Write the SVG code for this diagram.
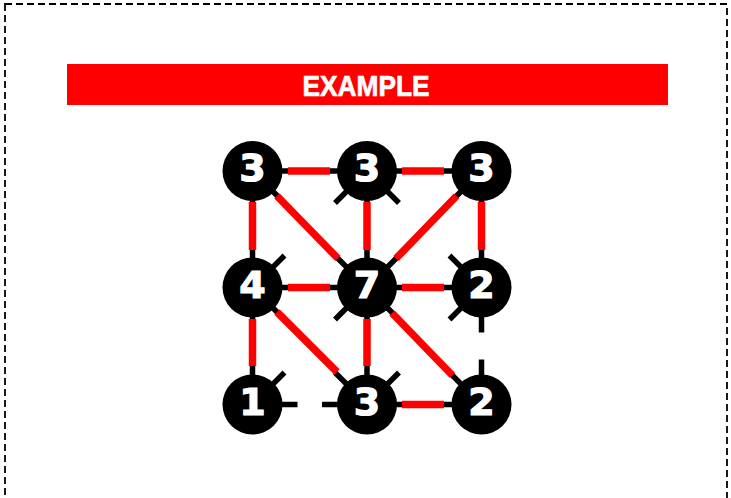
<svg xmlns="http://www.w3.org/2000/svg" width="731" height="498" viewBox="0 0 731 498">
<style>
.frame{fill:none;stroke:#000;stroke-width:1.8;stroke-dasharray:7,4}
.stub{stroke:#000;stroke-width:5.5;stroke-linecap:butt}
.disc{fill:#000}
.num{fill:#fff;stroke:#fff;stroke-width:1.2;font-family:"DejaVu Sans","Liberation Sans",sans-serif;font-weight:bold;font-size:38px;text-anchor:middle}
.edge{stroke:#ff0000;stroke-width:7.5;stroke-linecap:butt}
.title{fill:#fff;stroke:#fff;stroke-width:0.7;font-family:"Liberation Sans","DejaVu Sans",sans-serif;font-weight:bold;font-size:30px;text-anchor:middle}
</style>
<rect class="frame" x="5" y="4" width="722" height="530"/>
<g id="header">
<rect x="67" y="64" width="601" height="41" fill="#ff0000"/>
<text class="title" x="366" y="96" textLength="127" lengthAdjust="spacingAndGlyphs">EXAMPLE</text>
</g>
<g id="node-TL">
<path class="stub" d="M252.5 171h45M252.5 171v45M252.5 171l32 32"/>
<circle class="disc" cx="252.5" cy="171" r="30"/>
<text class="num" x="252.5" y="181">3</text>
</g>
<g id="node-TM">
<path class="stub" d="M367 171h-45M367 171h45M367 171v45M367 171l-32 32M367 171l32 32"/>
<circle class="disc" cx="367" cy="171" r="30"/>
<text class="num" x="367" y="181">3</text>
</g>
<g id="node-TR">
<path class="stub" d="M481.5 171h-45M481.5 171v45M481.5 171l-32 32"/>
<circle class="disc" cx="481.5" cy="171" r="30"/>
<text class="num" x="481.5" y="181">3</text>
</g>
<g id="node-ML">
<path class="stub" d="M252.5 287.5v-45M252.5 287.5v45M252.5 287.5h45M252.5 287.5l32 -32M252.5 287.5l32 32"/>
<circle class="disc" cx="252.5" cy="287.5" r="30"/>
<text class="num" x="252.5" y="297.5">4</text>
</g>
<g id="node-MM">
<path class="stub" d="M367 287.5v-45M367 287.5v45M367 287.5h45M367 287.5h-45M367 287.5l32 -32M367 287.5l32 32M367 287.5l-32 -32M367 287.5l-32 32"/>
<circle class="disc" cx="367" cy="287.5" r="30"/>
<text class="num" x="367" y="297.5">7</text>
</g>
<g id="node-MR">
<path class="stub" d="M481.5 287.5v-45M481.5 287.5v45M481.5 287.5h-45M481.5 287.5l-32 -32M481.5 287.5l-32 32"/>
<circle class="disc" cx="481.5" cy="287.5" r="30"/>
<text class="num" x="481.5" y="297.5">2</text>
</g>
<g id="node-BL">
<path class="stub" d="M252.5 404.5v-45M252.5 404.5h45M252.5 404.5l32 -32"/>
<circle class="disc" cx="252.5" cy="404.5" r="30"/>
<text class="num" x="252.5" y="414.5">1</text>
</g>
<g id="node-BM">
<path class="stub" d="M367 404.5v-45M367 404.5h45M367 404.5h-45M367 404.5l32 -32M367 404.5l-32 -32"/>
<circle class="disc" cx="367" cy="404.5" r="30"/>
<text class="num" x="367" y="414.5">3</text>
</g>
<g id="node-BR">
<path class="stub" d="M481.5 404.5v-45M481.5 404.5h-45M481.5 404.5l-32 -32"/>
<circle class="disc" cx="481.5" cy="404.5" r="30"/>
<text class="num" x="481.5" y="414.5">2</text>
</g>
<g id="connectors">
<line class="edge" x1="288" y1="171" x2="330" y2="171"/>
<line class="edge" x1="402" y1="171" x2="444" y2="171"/>
<line class="edge" x1="288" y1="287.5" x2="330" y2="287.5"/>
<line class="edge" x1="402" y1="287.5" x2="444" y2="287.5"/>
<line class="edge" x1="402" y1="404.5" x2="444" y2="404.5"/>
<line class="edge" x1="252.5" y1="202" x2="252.5" y2="250"/>
<line class="edge" x1="367" y1="202" x2="367" y2="250"/>
<line class="edge" x1="481.5" y1="202" x2="481.5" y2="250"/>
<line class="edge" x1="252.5" y1="319" x2="252.5" y2="366"/>
<line class="edge" x1="367" y1="319" x2="367" y2="366"/>
<line class="edge" x1="277" y1="196" x2="338" y2="258.5"/>
<line class="edge" x1="456.5" y1="196" x2="396" y2="258.5"/>
<line class="edge" x1="277" y1="312" x2="337" y2="372"/>
<line class="edge" x1="392" y1="313" x2="452.5" y2="375.5"/>
</g>
</svg>
